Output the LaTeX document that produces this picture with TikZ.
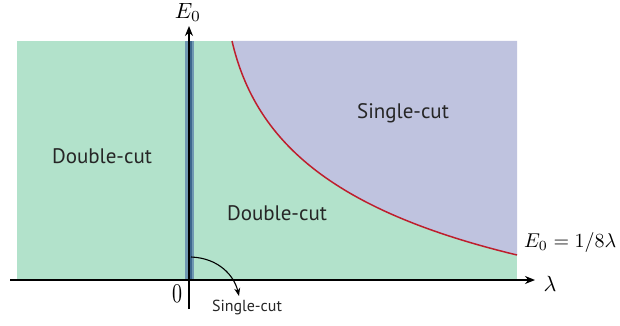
\documentclass[tikz,border=0pt]{standalone}
\usepackage{fontspec}
\setmainfont{PT Sans}
\usetikzlibrary{arrows.meta}
\definecolor{regiongreen}{RGB}{178,226,203}
\definecolor{regionpurple}{RGB}{191,195,223}
\definecolor{curvered}{RGB}{190,30,45}
\definecolor{stripout}{RGB}{112,152,178}
\definecolor{stripin}{RGB}{62,104,142}
\newcommand{\bigmath}[1]{\scalebox{2.0}{$#1$}}
\tikzset{
  axis/.style={line width=1.4pt, -{Stealth[length=10pt,width=8pt]}},
  biglabel/.style={font=\fontsize{21}{24}\selectfont, text=black!85},
  smalllabel/.style={font=\fontsize{16}{19}\selectfont, text=black!85},
  mathlabel/.style={inner sep=1pt},
}
\begin{document}
\begin{tikzpicture}[x=1pt,y=-1pt]
\useasboundingbox (0,0) rectangle (620,326);
% regions
\fill[regiongreen] (17,41) rectangle (517,280);
\fill[regionpurple] (232,41) .. controls (255,140) and (330,210) .. (517,255) -- (517,41) -- cycle;
\draw[curvered, line width=1.5pt] (232,41) .. controls (255,140) and (330,210) .. (517,255);
% strip
\fill[stripout] (185,41) rectangle (194,280);
\fill[stripin] (188,41) rectangle (192,280);
% axes
\coordinate (xs) at (10,280);
\coordinate (xe) at (535,280);
\coordinate (ys) at (189,309);
\coordinate (ye) at (189,26);
\draw[axis] (xs) -- (xe);
\draw[axis] (ys) -- (ye);
% labels
\node[mathlabel] (E0) at (188,12.5) {\scalebox{2.2}{$E_0$}};
\node[mathlabel] (lam) at (550,284) {\scalebox{2.2}{$\lambda$}};
\node[mathlabel] (zero) at (177,294) {\scalebox{2}[2.7]{$0$}};
\node[mathlabel, anchor=west] (curvelab) at (523,242) {\bigmath{E_0=1/8\lambda}};
\node[biglabel] (dc1) at (102,156) {Double-cut};
\node[biglabel] (dc2) at (277,213) {Double-cut};
\node[biglabel] (sc1) at (403,113) {Single-cut};
\node[smalllabel] (sc2) at (247,307) {Single-cut};
% curved arrow
\coordinate (arrs) at (191,257);
\coordinate (arre) at (239,296);
\draw[line width=1.1pt, -{Stealth[length=8pt,width=6pt]}] (arrs) .. controls (218,258) and (234,275) .. (arre);
\end{tikzpicture}
\end{document}
